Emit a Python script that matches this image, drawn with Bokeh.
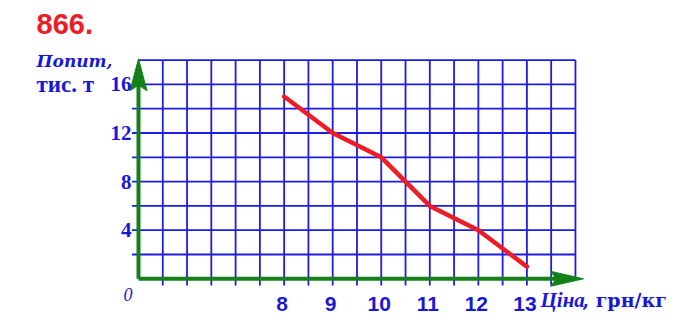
from bokeh.plotting import figure
from bokeh.models import Range1d
from bokeh.core.properties import value
from bokeh.embed import file_html
from bokeh.resources import INLINE

# ---- data ----
price = [8, 9, 10, 11, 12, 13]          # грн/кг
demand = [15, 12, 10, 6, 4, 1]          # тис. т
x_ticks = [8, 9, 10, 11, 12, 13]
x_tick_labels = ["8", "9", "10", "11", "12", "13"]
y_ticks = [4, 8, 12, 16]
y_tick_labels = ["4", "8", "12", "16"]
x_min, x_max = 5, 14                    # grid extent (origin drawn as 0)
y_min, y_max = 0, 18
x_step, y_step = 0.5, 2

BLUE = "#1818d8"
GRID = "#1c1ce6"
GREEN = "#15801a"
RED = "#ee1c25"

W, H = 695, 322
X0PX, Y0PX = 138.0, 278.3      # pixel of origin
UX, UY = 48.55, 12.15          # pixels per unit


def dx(px):
    return x_min + (px - X0PX) / UX


def dy(py):
    return y_min + (Y0PX - py) / UY


p = figure(width=W, height=H, x_range=Range1d(dx(0), dx(W)), y_range=Range1d(dy(H), dy(0)),
           output_backend="svg", toolbar_location=None,
           min_border=0, min_border_left=0, min_border_right=0,
           min_border_top=0, min_border_bottom=0)
p.axis.visible = False
p.outline_line_color = None
p.xgrid.visible = False
p.ygrid.visible = False
p.background_fill_color = "white"
p.border_fill_color = "white"

# ---- grid ----
tick_below = dy(285.0)
tick_left = dx(131.5)
nx = int(round((x_max - x_min) / x_step))
vx = [x_min + x_step * i for i in range(1, nx + 1)]
v_y0 = [tick_below if v < x_max else y_min for v in vx]
p.segment(x0=vx, y0=v_y0, x1=vx, y1=[y_max] * len(vx), line_color=GRID, line_width=1.8)
ny = int(round((y_max - y_min) / y_step))
hy = [y_min + y_step * i for i in range(1, ny + 1)]
h_x0 = [tick_left if h < y_max else x_min for h in hy]
p.segment(x0=h_x0, y0=hy, x1=[x_max] * len(hy), y1=hy, line_color=GRID, line_width=1.8)

# ---- data line ----
p.line(price, demand, line_color=RED, line_width=4.5, line_cap="round", line_join="round")

# ---- axes (green with arrows) ----
x_tip = dx(583)
y_tip = dy(58.3)
p.segment(x0=[x_min, x_min], y0=[y_min, y_min], x1=[x_tip - 0.4, x_min], y1=[y_min, y_tip - 1.5],
          line_color=GREEN, line_width=4)
xl, xhw = 33 / UX, 7.5 / UY
p.patch([x_tip, x_tip - xl, x_tip - xl * 0.82, x_tip - xl],
        [y_min, y_min + xhw, y_min, y_min - xhw], fill_color=GREEN, line_color=GREEN)
yl, yhw = 32 / UY, 8.5 / UX
p.patch([x_min, x_min - yhw, x_min, x_min + yhw],
        [y_tip, y_tip - yl, y_tip - yl * 0.82, y_tip - yl], fill_color=GREEN, line_color=GREEN)

# ---- tick labels ----
p.text(x=x_ticks, y=[dy(303)] * len(x_ticks), text=x_tick_labels, x_offset=-2,
       text_font=value("Liberation Sans"), text_font_style="bold", text_font_size="21px",
       text_color=BLUE, text_align="center", text_baseline="middle")
p.text(x=[dx(131)] * len(y_ticks), y=y_ticks, text=y_tick_labels,
       text_font=value("Liberation Serif"), text_font_style="bold", text_font_size="21px",
       text_color=BLUE, text_align="right", text_baseline="middle")


# ---- texts ----
def lab(text, px, py, font, style, size, color=BLUE):
    p.text(x=[dx(px)], y=[dy(py)], text=[text], text_font=value(font),
           text_font_style=style, text_font_size=size, text_color=color,
           text_align="left", text_baseline="middle")


lab("866.", 36, 23, "Liberation Sans", "bold", "29px", RED)
lab("Попит,", 36, 60, "DejaVu Serif", "bold italic", "17px")
lab("тис. т", 36, 84, "Liberation Serif", "bold", "23px")
lab("0", 123, 293.5, "Liberation Serif", "italic", "18px")
lab("Ціна", 540, 299.5, "Liberation Serif", "bold italic", "21px")
lab(", грн/кг", 582, 299.5, "DejaVu Serif", "bold", "19px")

open("out.html", "w").write(file_html(p, INLINE))
